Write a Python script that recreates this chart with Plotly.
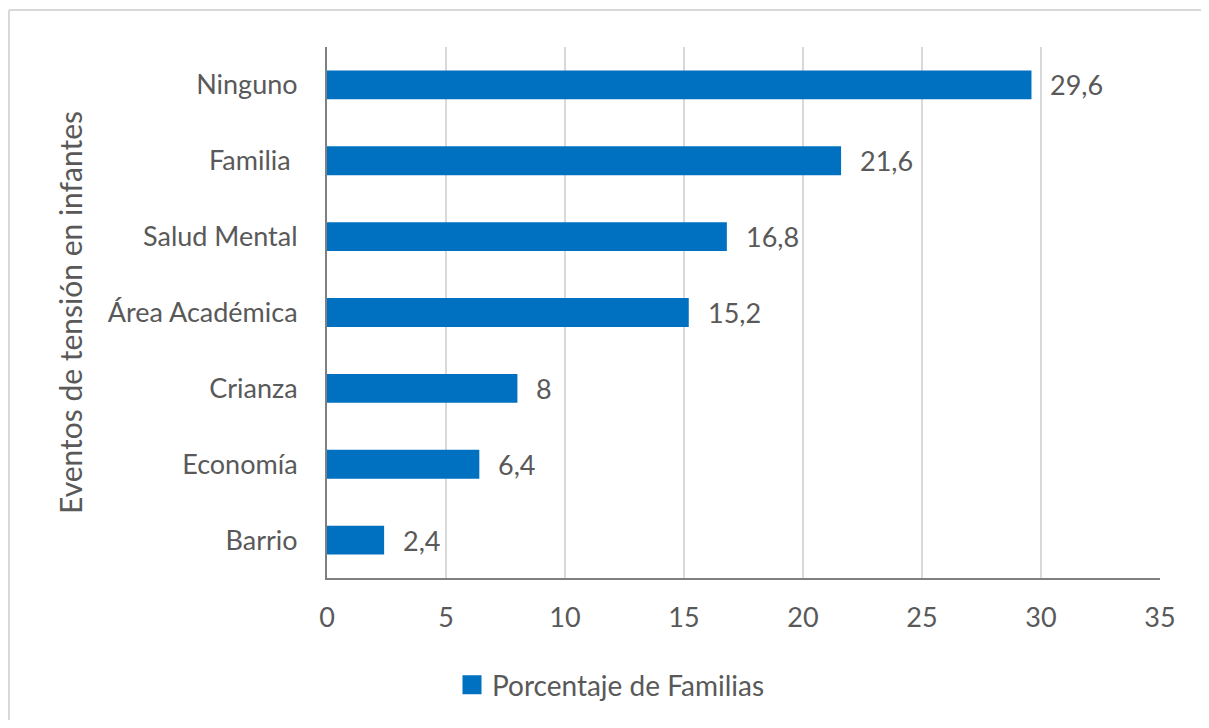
import plotly.graph_objects as go

categories = ["Ninguno", "Familia ", "Salud Mental", "Área Académica", "Crianza", "Economía", "Barrio"]
values = [29.6, 21.6, 16.8, 15.2, 8, 6.4, 2.4]
value_labels = ["29,6", "21,6", "16,8", "15,2", "8", "6,4", "2,4"]
x_ticks = [0, 5, 10, 15, 20, 25, 30, 35]
series_name = "Porcentaje de Familias"
axis_title = "Eventos de tensión en infantes"

BAR = "#0070C0"
TXT = "#595959"
FONT = "Lato"
FS = 27

# the page body adds an 8px margin; keep the figure inside the 1209x728 window
OFF = 8
WIN_W, WIN_H = 1209, 728
W, H = WIN_W - OFF, WIN_H - 2 * OFF
PL, PR, PT, PB = 327, 1160, 47, 578   # plot area in window pixels
L = PL - OFF
T = PT - OFF
R = W - (PR - OFF)
B = H - (PB - OFF)
pw, ph = W - L - R, H - T - B

def px_to_paper_x(px):
    return (px - OFF - L) / pw

def px_to_paper_y(py):
    return (H - B - (py - OFF)) / ph

fig = go.Figure()
fig.add_trace(go.Bar(
    x=values, y=categories, orientation="h",
    marker=dict(color=BAR, line=dict(width=0)),
    width=0.38, showlegend=False, hoverinfo="x+y",
))
fig.add_trace(go.Scatter(
    x=[None], y=[None], mode="markers", name=series_name,
    marker=dict(symbol="square", size=16, color=BAR, line=dict(color=BAR, width=3)),
    showlegend=True,
))

for c, v, lab in zip(categories, values, value_labels):
    fig.add_annotation(x=v, y=c, xref="x", yref="y", text=lab, showarrow=False,
                       xanchor="left", yanchor="middle", xshift=17,
                       font=dict(family=FONT, size=FS, color=TXT))

# chart border (only top and left edges are inside the window)
bx0, by0 = px_to_paper_x(9), px_to_paper_y(10)
fig.add_shape(type="line", xref="paper", yref="paper",
              x0=bx0, x1=px_to_paper_x(1260), y0=by0, y1=by0,
              line=dict(color="#D9D9D9", width=2), layer="below")
fig.add_shape(type="line", xref="paper", yref="paper",
              x0=bx0, x1=bx0, y0=by0, y1=px_to_paper_y(780),
              line=dict(color="#D9D9D9", width=2), layer="below")

fig.update_layout(
    width=W, height=H,
    margin=dict(l=L, r=R, t=T, b=B, autoexpand=False),
    paper_bgcolor="white", plot_bgcolor="white",
    font=dict(family=FONT, color=TXT, size=FS),
    bargap=0.62,
    xaxis=dict(range=[0, 35], tickvals=x_ticks, ticktext=[str(t) for t in x_ticks],
               showgrid=True, gridcolor="#D9D9D9", gridwidth=2,
               showline=True, linecolor="#7F7F7F", linewidth=2,
               zeroline=False, ticks="", ticklabelstandoff=15,
               tickfont=dict(family=FONT, size=FS, color=TXT), fixedrange=True),
    yaxis=dict(categoryorder="array", categoryarray=categories, autorange="reversed",
               showgrid=False, showline=True, linecolor="#7F7F7F", linewidth=2,
               zeroline=False, ticks="", ticklabelstandoff=22,
               tickfont=dict(family=FONT, size=FS, color=TXT),
               title=dict(text=axis_title, standoff=16,
                          font=dict(family=FONT, size=30, color=TXT)),
               automargin=False, fixedrange=True),
    legend=dict(orientation="h", x=px_to_paper_x(611), xanchor="center",
                y=px_to_paper_y(685), yanchor="middle",
                font=dict(family=FONT, size=28, color=TXT),
                itemsizing="trace", bgcolor="rgba(0,0,0,0)"),
)

fig.write_html(
    "out.html",
    config={"displayModeBar": False},
    post_script="document.documentElement.style.overflow='hidden';document.body.style.overflow='hidden';",
)
